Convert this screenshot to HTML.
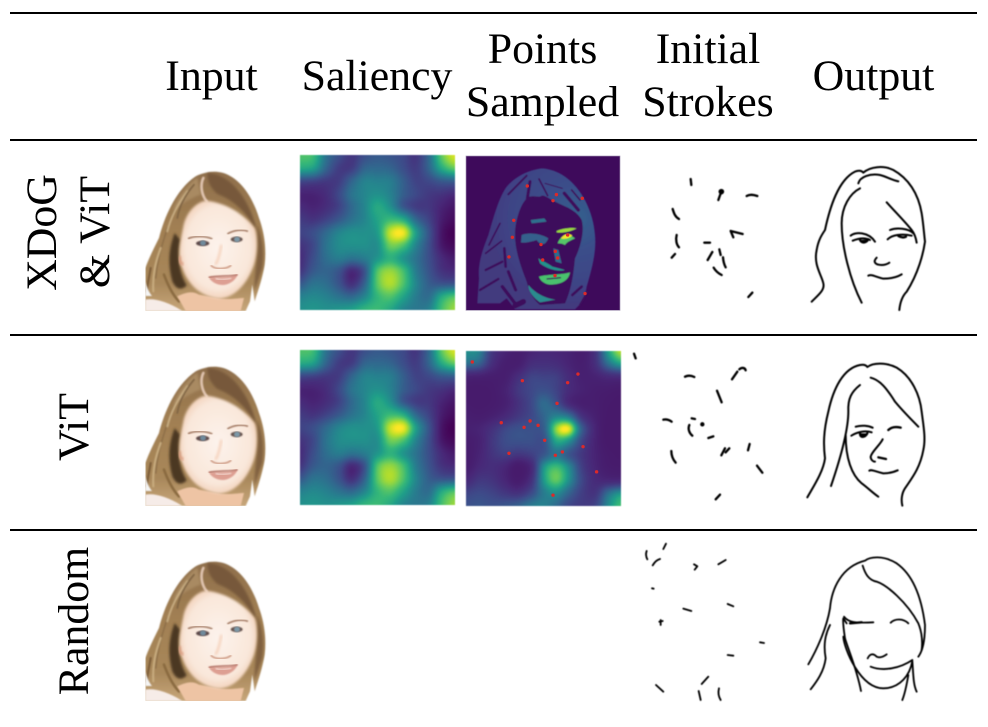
<!DOCTYPE html>
<html lang="en">
<head>
<meta charset="utf-8">
<title>Saliency and stroke initialization comparison</title>
<style>
html,body{margin:0;padding:0;background:#fff;width:988px;height:727px;overflow:hidden}
#figure{position:absolute;left:0;top:0;width:988px;height:727px}
svg{position:absolute;left:0;top:0}
canvas{position:absolute;width:155px;height:155px;filter:blur(.5px)}
text{font-family:"Liberation Serif",serif;font-size:43.8px;fill:#000}
.ink{fill:none;stroke:#000;stroke-linecap:round;stroke-linejoin:round}
</style>
</head>
<body>
<div id="figure">
<canvas id="sal1" width="155" height="155" style="left:300px;top:155px"></canvas>
<canvas id="sal2" width="155" height="155" style="left:300px;top:350px"></canvas>
<canvas id="pts2" width="155" height="155" style="left:466px;top:350.5px"></canvas>
<svg id="main" width="988" height="727" viewBox="0 0 988 727" xmlns="http://www.w3.org/2000/svg">
<defs>
<filter id="soft" x="-5%" y="-5%" width="110%" height="110%"><feGaussianBlur stdDeviation="1.5"/></filter>
<filter id="mapsoft" x="-5%" y="-5%" width="110%" height="110%"><feGaussianBlur stdDeviation="1.6"/></filter>
<filter id="b2" x="-10%" y="-10%" width="120%" height="120%"><feGaussianBlur stdDeviation="2"/></filter>
<filter id="b4" x="-20%" y="-20%" width="140%" height="140%"><feGaussianBlur stdDeviation="4"/></filter>
<filter id="b8" x="-30%" y="-30%" width="160%" height="160%"><feGaussianBlur stdDeviation="8"/></filter>
<linearGradient id="hairgrad" x1="0" y1="0" x2="0" y2="1">
<stop offset="0" stop-color="#8f6f4c"/><stop offset=".4" stop-color="#a17f52"/><stop offset=".8" stop-color="#a8875a"/><stop offset="1" stop-color="#c7a67a"/>
</linearGradient>
<radialGradient id="skingrad" cx=".5" cy=".48" r=".6">
<stop offset="0" stop-color="#fdf3ec"/><stop offset=".7" stop-color="#f9e7da"/><stop offset="1" stop-color="#eec4a6"/>
</radialGradient>
<radialGradient id="mapHair" gradientUnits="userSpaceOnUse" cx="330" cy="190" r="260">
<stop offset="0" stop-color="#33618d"/><stop offset=".35" stop-color="#3a4f8a"/><stop offset=".8" stop-color="#3f4385"/><stop offset="1" stop-color="#423a7e"/>
</radialGradient>
<clipPath id="faceclip"><rect x="4" y="0" width="368" height="429"/></clipPath>
<g id="portrait" clip-path="url(#faceclip)">
<path d="M4 429 L4 300 C15 270 30 240 45 210 C60 150 95 65 155 25 C185 10 225 5 255 22 C300 45 330 100 345 150 C360 190 368 240 362 290 C355 330 345 360 332 400 L325 350 L318 400 L305 429 Z" fill="url(#hairgrad)" filter="url(#b2)"/>
<path d="M190 15 C240 15 290 60 320 130 C330 155 335 170 340 195 C320 150 280 100 220 78 C200 60 190 40 190 15 Z" fill="#77583a" filter="url(#b4)"/>
<path d="M160 28 C130 50 100 90 85 130 C110 110 140 90 170 80 Z" fill="#a98a62" filter="url(#b4)"/>
<path d="M340 170 C355 210 362 250 355 300 C345 330 338 350 332 370 C330 330 338 290 340 240 Z" fill="#80613f" filter="url(#b4)"/>
<path d="M92 195 C75 240 70 285 85 340 C100 372 118 362 128 352 C105 315 98 260 108 215 Z" fill="#4b3722" filter="url(#b4)"/>
<g fill="none" stroke-linecap="round" filter="url(#b2)">
<path d="M70 180 C55 230 40 270 35 330" stroke="#8f7048" stroke-width="5"/>
<path d="M50 240 C35 280 25 320 28 370" stroke="#c9ad80" stroke-width="6"/>
<path d="M20 300 C15 330 10 350 8 370" stroke="#7a5c38" stroke-width="6"/>
<path d="M130 70 C100 110 80 150 70 190" stroke="#c6ab80" stroke-width="6"/>
<path d="M150 50 C120 85 105 120 100 150" stroke="#7f6343" stroke-width="5"/>
<path d="M178 30 C168 50 172 80 188 100" stroke="#dfc3ae" stroke-width="8"/>
<path d="M60 320 C75 360 90 385 105 400" stroke="#8a6a40" stroke-width="8"/>
</g>
<path d="M100 385 C130 370 150 370 165 380 L230 392 C260 395 290 390 300 390 L290 429 L125 429 Z" fill="#eec4a4" filter="url(#b2)"/>
<path d="M4 395 C30 390 70 400 115 429 L4 429 Z" fill="#f6ece8" filter="url(#b2)"/>
<path d="M4 340 C8 355 14 372 24 384 L4 384 Z" fill="#f4f4f4" filter="url(#b2)"/>
<path d="M185 98 C150 105 125 140 118 175 C108 225 100 270 115 300 C130 345 165 385 225 392 C270 390 310 350 330 290 C342 250 340 200 332 180 C300 140 250 105 185 98 Z" fill="url(#skingrad)" filter="url(#b4)"/>
<path d="M108 265 C103 275 108 285 118 290" fill="none" stroke="#dc9e82" stroke-width="8" filter="url(#b4)"/>
<path d="M132 212 C150 203 185 203 205 213" fill="none" stroke="#9a6f58" stroke-width="4.5" filter="url(#b2)"/>
<path d="M250 198 C270 186 295 183 312 190" fill="none" stroke="#9a6f58" stroke-width="4.5" filter="url(#b2)"/>
<ellipse cx="176" cy="226" rx="20" ry="8" fill="#5d4a48" filter="url(#b2)"/>
<ellipse cx="177" cy="225" rx="9" ry="8" fill="#6e8a9c" filter="url(#b2)"/>
<ellipse cx="278" cy="214" rx="18" ry="8" fill="#66524e" filter="url(#b2)"/>
<ellipse cx="279" cy="214" rx="9" ry="8" fill="#7d99a8" filter="url(#b2)"/>
<path d="M232 230 C228 255 222 280 214 290" fill="none" stroke="#f4cdb5" stroke-width="6" filter="url(#b4)"/>
<path d="M200 292 C215 305 245 305 262 292" fill="none" stroke="#c58b72" stroke-width="4" filter="url(#b2)"/>
<path d="M194 328 C220 326 250 330 281 320 C272 342 250 352 234 351 C215 350 202 340 194 328 Z" fill="#dd9f92" filter="url(#b2)"/>
<path d="M194 328 C220 322 255 326 281 320" fill="none" stroke="#a45a4e" stroke-width="3.5" filter="url(#b2)"/>
<path d="M215 332 C230 336 250 334 262 330" fill="none" stroke="#f4dcd4" stroke-width="4" filter="url(#b2)"/>
</g>
</defs>
<g id="rules">
<line x1="10" x2="977" y1="13" y2="13" stroke="#000" stroke-width="2"/>
<line x1="10" x2="977" y1="140" y2="140" stroke="#000" stroke-width="2"/>
<line x1="10" x2="977" y1="335" y2="335" stroke="#000" stroke-width="2"/>
<line x1="10" x2="977" y1="530" y2="530" stroke="#000" stroke-width="2"/>
</g>
<g>
<text x="211.5" y="90" text-anchor="middle">Input</text>
<text x="377" y="90" text-anchor="middle">Saliency</text>
<text x="542.5" y="63" text-anchor="middle">Points</text>
<text x="542.5" y="116" text-anchor="middle">Sampled</text>
<text x="708" y="63" text-anchor="middle">Initial</text>
<text x="708" y="116" text-anchor="middle">Strokes</text>
<text x="873.5" y="90" text-anchor="middle">Output</text>
</g>
<g>
<text transform="translate(56,232.5) rotate(-90)" text-anchor="middle">XDoG</text>
<text transform="translate(109,232) rotate(-90)" text-anchor="middle">&amp; ViT</text>
<text transform="translate(88,427) rotate(-90)" text-anchor="middle">ViT</text>
<text transform="translate(88,621) rotate(-90)" text-anchor="middle">Random</text>
</g>
<use href="#portrait" transform="translate(144,168) scale(.33333)"/>
<use href="#portrait" transform="translate(144,363) scale(.33333)"/>
<use href="#portrait" transform="translate(144,558) scale(.33333)"/>

<g transform="translate(465,155) scale(.33333)">
<rect x="3" y="3" width="462" height="463" fill="#3e0a5b" stroke="#a394b4" stroke-width="2"/>
<g filter="url(#mapsoft)">
<path d="M230 40 C190 45 150 65 125 95 C100 130 85 190 70 240 C50 290 38 330 42 370 C40 400 38 425 37 445 L105 445 L125 430 L150 463 L330 463 C345 450 360 430 365 395 C380 345 395 290 390 240 C385 170 350 100 300 65 C280 50 250 40 230 40 Z" fill="url(#mapHair)"/>
<path d="M185 130 C165 150 150 200 150 240 C150 290 170 340 185 380 C190 400 200 430 225 450 L300 445 C320 400 325 360 330 310 C345 280 360 230 350 195 C335 165 300 155 270 140 C250 130 235 115 225 125 C215 125 195 120 185 130 Z" fill="#3e0a5b"/>
<g fill="none" stroke="#3e0a5b" stroke-linecap="round">
<path d="M185 62 L130 118" stroke-width="6"/>
<path d="M195 80 L187 130" stroke-width="9"/>
<path d="M222 72 L248 122" stroke-width="5"/>
<path d="M240 85 L292 100" stroke-width="3"/>
<path d="M298 115 L340 165" stroke-width="10"/>
<path d="M320 105 L345 135" stroke-width="5"/>
<path d="M105 205 L72 270" stroke-width="5"/>
<path d="M62 295 L110 258" stroke-width="5"/>
<path d="M118 280 L122 335" stroke-width="8"/>
<path d="M62 345 L112 320" stroke-width="7"/>
<path d="M45 405 L100 372" stroke-width="7"/>
<path d="M130 350 L152 405" stroke-width="9"/>
<path d="M112 395 L150 445" stroke-width="10"/>
<path d="M322 420 L350 395" stroke-width="8"/>
<path d="M345 450 L368 410" stroke-width="6"/>
<path d="M150 452 L175 440" stroke-width="16"/>
</g>
<path d="M197 195 L238 190 L245 200 L200 205 Z" fill="#2f6f8e"/>
<path d="M170 240 C190 232 225 235 250 250 C240 275 225 270 215 255 C200 260 180 265 168 262 Z" fill="#35618c"/>
<path d="M275 228 C290 220 320 217 335 220 C320 228 295 235 275 232 Z" fill="#9bd93c"/>
<path d="M278 265 C285 245 305 230 330 250 C320 255 305 260 300 270 C292 265 285 265 278 265 Z" fill="#55c667"/>
<path d="M288 250 C295 238 310 232 322 242 C312 250 298 254 288 250 Z" fill="#f2e529"/>
<path d="M265 280 L280 285 L290 325 L272 320 Z" fill="#2f6c8e"/>
<path d="M220 310 C235 320 250 325 262 335 L300 345 C285 350 250 345 225 325 Z" fill="#21918c"/>
<path d="M222 365 C240 358 290 360 315 352 C310 385 270 390 250 388 C235 385 225 375 222 365 Z" fill="#4ac16d"/>
<path d="M245 372 L288 368" fill="none" stroke="#3e0a5b" stroke-width="4"/>
<path d="M190 390 C215 420 250 432 272 434 L225 442 C205 428 190 410 190 390 Z" fill="#2a8b8e"/>
</g>
</g>

<g id="points-row1"></g>
<g id="points-row2"></g>

<g class="ink" stroke-width="7" transform="translate(460,150) scale(.33333)" filter="url(#soft)">
<path d="M692 87 L694 105"/>
<path d="M785 122 L775 150"/><circle cx="784" cy="125" r="5" fill="#000"/>
<path d="M860 138 C870 132 880 134 892 138"/>
<path d="M638 177 C642 190 645 200 657 207"/>
<path d="M650 255 C646 270 650 285 657 292"/>
<path d="M635 323 L645 312"/>
<path d="M733 278 L750 278"/>
<path d="M812 243 L820 262 M812 243 L848 252"/>
<path d="M743 330 L757 306"/>
<path d="M778 298 L782 315"/>
<path d="M789 322 C790 335 793 345 797 352"/>
<path d="M761 353 C768 365 775 370 785 375"/>
<path d="M865 441 L877 428"/>
</g>
<g class="ink" stroke-width="7" transform="translate(460,345) scale(.33333)" filter="url(#soft)">
<path d="M522 26 L527 40"/>
<path d="M675 95 C685 90 695 92 703 96"/>
<path d="M816 103 L832 80 M838 73 C845 66 855 68 857 76"/>
<path d="M771 137 L785 172"/>
<path d="M610 224 C620 222 628 225 635 230"/>
<path d="M695 220 L705 222"/>
<circle cx="727" cy="238" r="3" fill="#000"/>
<path d="M688 240 C683 252 688 265 697 272"/>
<path d="M745 279 L760 274"/>
<path d="M634 318 C634 335 640 345 647 353"/>
<path d="M784 331 L795 310 M797 322 L808 310"/>
<path d="M869 297 L864 316"/>
<path d="M891 362 L907 383"/>
<path d="M767 463 L780 449"/>
</g>
<g class="ink" stroke-width="5.5" transform="translate(620,535) scale(.33333)" filter="url(#soft)">
<path d="M80 48 C76 58 78 65 82 73"/>
<path d="M138 26 L130 42"/>
<path d="M98 91 C105 80 110 75 120 72"/>
<path d="M222 88 L232 94 L224 104"/>
<path d="M295 88 L317 75"/>
<path d="M96 160 L101 161"/>
<path d="M190 221 L214 228"/>
<path d="M323 207 L340 214"/>
<path d="M122 255 L122 270 M118 260 L128 258"/>
<path d="M420 322 L432 324"/>
<path d="M323 360 L340 362"/>
<path d="M108 450 L130 470"/>
<path d="M245 447 L265 425"/>
<path d="M236 468 L242 495"/>
<path d="M297 460 C293 475 296 485 302 495"/>
</g>

<g class="ink" stroke-width="6" transform="translate(780,150) scale(.33333)" filter="url(#soft)">
<path d="M95 455 C115 435 135 420 130 400 C125 375 100 345 110 300 C115 270 125 255 135 240 C150 170 175 90 225 65 C235 60 245 62 250 68 C270 50 310 45 340 60 C385 85 415 130 425 190 C430 220 432 250 435 275 C430 310 415 370 380 425 C365 440 360 460 358 480"/>
<path d="M240 115 C210 130 185 170 185 220 C185 290 210 390 245 458"/>
<path d="M235 100 C240 80 270 70 300 75 C320 80 335 90 355 94"/>
<path d="M320 157 C345 185 375 215 395 240 C403 250 408 265 410 278"/>
<path d="M212 257 C225 245 265 245 285 275"/>
<path d="M218 272 C235 265 255 262 270 270"/>
<path d="M240 270 C245 280 258 280 265 268" stroke-width="7" fill="#000"/>
<path d="M330 240 C350 232 385 235 400 250"/>
<path d="M323 268 C335 255 365 250 395 257"/>
<path d="M355 258 C362 262 370 264 378 260" stroke-width="7"/>
<path d="M290 323 C278 335 285 345 305 345 C315 345 322 342 328 338"/>
<path d="M265 377 C275 372 285 380 310 386 C330 386 350 382 365 373"/>
</g>
<g class="ink" stroke-width="6" transform="translate(780,345) scale(.33333)" filter="url(#soft)">
<path d="M82 457 C100 425 130 380 135 340 C130 300 130 260 145 200 C160 130 190 70 240 60 C250 58 258 60 262 66 C280 52 320 52 350 68 C395 95 420 150 425 200 C430 240 438 280 430 315 C420 370 395 400 375 430 C365 445 363 465 367 482"/>
<path d="M240 120 C215 140 203 160 205 200 C205 240 195 300 153 423"/>
<path d="M197 270 C197 340 215 390 245 415 C265 430 280 445 295 455"/>
<path d="M272 98 C300 105 320 130 345 170 C370 200 395 225 415 245"/>
<path d="M227 245 C245 240 265 242 278 248"/>
<path d="M214 272 C230 262 255 255 275 262"/>
<path d="M240 265 C240 280 255 278 262 265" stroke-width="7" fill="#000"/>
<path d="M325 255 C335 245 350 245 362 248" stroke-width="7"/>
<path d="M308 283 C300 300 275 320 272 335 C272 345 280 350 285 350"/>
<path d="M295 337 L318 342" stroke-width="7"/>
<path d="M268 377 C275 372 285 380 310 385 C325 385 340 382 353 376"/>
</g>
<g class="ink" stroke-width="5.5" transform="translate(620,535) scale(.33333)" filter="url(#soft)">
<path d="M565 388 C590 345 620 280 630 220 C635 160 665 95 735 77 C750 65 790 60 830 85 C880 120 905 190 915 270 C915 310 910 345 895 365"/>
<path d="M630 270 C615 300 610 330 617 370 C612 410 590 440 572 463"/>
<path d="M728 92 C735 115 745 135 770 140 C800 150 860 200 895 265 C905 290 908 320 905 345"/>
<path d="M670 305 C672 340 720 460 790 460 C840 460 870 420 877 378 C880 420 880 450 890 470"/>
<path d="M680 265 L670 250 C668 260 672 290 675 310 C685 345 710 400 723 468"/>
<path d="M865 420 C860 450 855 475 847 495"/>
<path d="M672 245 C685 262 705 265 760 262"/>
<path d="M690 265 L725 262" stroke-width="7"/>
<path d="M812 263 C825 250 850 250 865 265"/>
<path d="M743 370 C750 355 760 355 770 365 C780 370 790 365 800 358"/>
<path d="M752 395 C790 410 840 400 877 375"/>
</g>
</svg>
</div>
<script>
// Saliency values, on a 13x13 grid (0 = darkest, 1 = brightest).
const saliencyGrid = [
 [.72,.68,.38,.24,.16,.24,.28,.26,.22,.16,.34,.75,.95],
 [.60,.55,.32,.18,.18,.32,.34,.32,.24,.18,.32,.60,.75],
 [.22,.20,.17,.18,.32,.44,.44,.42,.30,.20,.22,.28,.30],
 [.10,.10,.13,.22,.38,.46,.50,.44,.30,.22,.17,.15,.12],
 [.12,.10,.13,.20,.34,.46,.60,.50,.28,.18,.16,.10,.06],
 [.17,.15,.20,.28,.38,.46,.58,.68,.62,.34,.20,.08,.03],
 [.20,.24,.34,.45,.50,.50,.55,.92,.98,.55,.26,.06,.00],
 [.15,.22,.38,.48,.50,.50,.50,.78,.72,.45,.24,.07,.02],
 [.13,.24,.36,.42,.38,.42,.52,.64,.52,.38,.24,.12,.07],
 [.16,.28,.32,.26,.12,.26,.72,.84,.70,.42,.26,.15,.12],
 [.28,.38,.36,.26,.14,.32,.74,.88,.72,.46,.30,.26,.26],
 [.44,.47,.44,.38,.34,.46,.66,.72,.58,.42,.36,.60,.72],
 [.50,.52,.50,.52,.56,.65,.68,.60,.46,.40,.44,.70,.85]
];
// Sampled points as fractions of the panel width / height.
const row1PointX = [.398,.587,.565,.755,.310,.301,.279,.487,.660,.580,.595,.498,.578,.773];
const row1PointY = [.196,.252,.291,.276,.418,.528,.655,.575,.513,.619,.662,.675,.776,.892];
const row2PointX = [.041,.366,.660,.727,.591,.229,.377,.416,.468,.511,.760,.626,.580,.279,.848,.565];
const row2PointY = [.073,.194,.207,.151,.341,.466,.496,.455,.483,.580,.621,.655,.677,.664,.784,.935];
const viridisStops = [[68,1,84],[72,40,120],[62,74,137],[49,104,142],[38,130,142],[31,158,137],[53,183,121],[109,205,89],[180,222,44],[253,231,37]];

function viridis(v){
  const t = Math.max(0, Math.min(1, v)) * (viridisStops.length - 1);
  const i = Math.min(viridisStops.length - 2, Math.floor(t));
  const f = t - i;
  return viridisStops[i].map((c, k) => c + (viridisStops[i + 1][k] - c) * f);
}
function catmull(a, b, c, d, t){
  return .5 * (2*b + (c-a)*t + (2*a-5*b+4*c-d)*t*t + (3*b-a-3*c+d)*t*t*t);
}
function sampleGrid(grid, u, v){
  const n = grid.length - 1;
  const gx = u * n, gy = v * n;
  const ix = Math.min(n - 1, Math.floor(gx)), iy = Math.min(n - 1, Math.floor(gy));
  const at = (r, c) => grid[Math.max(0, Math.min(n, r))][Math.max(0, Math.min(n, c))];
  const rowVal = r => catmull(at(r, ix-1), at(r, ix), at(r, ix+1), at(r, ix+2), gx - ix);
  return catmull(rowVal(iy-1), rowVal(iy), rowVal(iy+1), rowVal(iy+2), gy - iy);
}
function paintHeatmap(id, remap){
  const canvas = document.getElementById(id);
  const ctx = canvas.getContext('2d');
  const img = ctx.createImageData(canvas.width, canvas.height);
  for (let y = 0; y < canvas.height; y++) {
    for (let x = 0; x < canvas.width; x++) {
      const v = sampleGrid(saliencyGrid, x / (canvas.width - 1), y / (canvas.height - 1));
      const rgb = viridis(remap(Math.max(0, Math.min(1, v))));
      const p = (y * canvas.width + x) * 4;
      img.data[p] = rgb[0]; img.data[p+1] = rgb[1]; img.data[p+2] = rgb[2]; img.data[p+3] = 255;
    }
  }
  ctx.putImageData(img, 0, 0);
}
paintHeatmap('sal1', v => v);
paintHeatmap('sal2', v => v);
paintHeatmap('pts2', v => .07 + .93 * Math.pow(v, 2.4));

function panelX(f){ return 466 + f * 154; }
function panelY(f, top){ return top + f * 154.5; }
function drawPoints(groupId, xs, ys, top){
  const group = document.getElementById(groupId);
  xs.forEach((fx, i) => {
    const dot = document.createElementNS('http://www.w3.org/2000/svg', 'circle');
    dot.setAttribute('cx', panelX(fx));
    dot.setAttribute('cy', panelY(ys[i], top));
    dot.setAttribute('r', 1.7);
    dot.setAttribute('fill', '#dc2a2a');
    
    
    group.appendChild(dot);
  });
}
drawPoints('points-row1', row1PointX, row1PointY, 155.7);
drawPoints('points-row2', row2PointX, row2PointY, 350.7);
</script>
</body>
</html>
